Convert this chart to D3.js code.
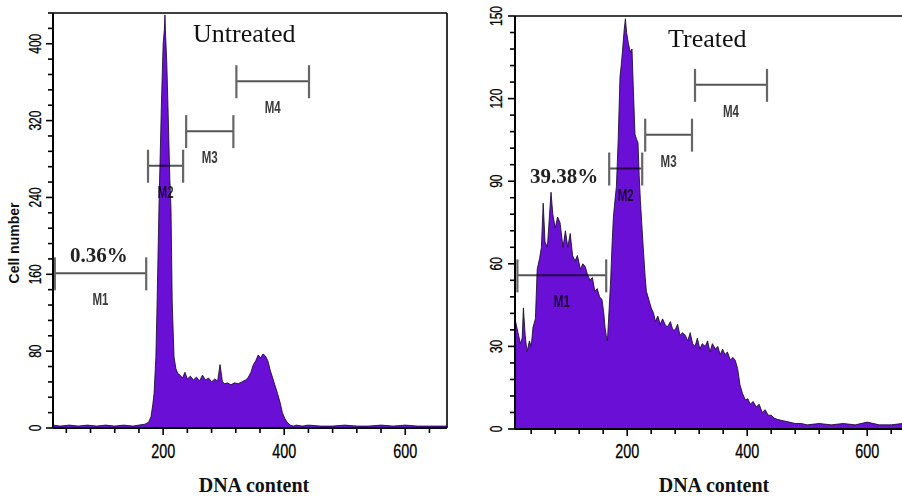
<!DOCTYPE html>
<html><head><meta charset="utf-8">
<script src="https://cdn.jsdelivr.net/npm/d3@7"></script>
<style>body{margin:0;background:#fff} svg{display:block}</style>
</head><body>
<svg id="c" width="902" height="498"></svg>
<script>
// ---------- data ----------
const untreatedDNA   = [18,30,45,60,75,90,105,120,135,150,160,170,176,180,183,185,188,190,193,197,200,202,203,204,206,208,211,213,215,218,221,224,228,232,236,240,245,250,255,260,265,270,275,280,285,290,294,298,302,306,312,318,324,330,336,340,345,349,353,357,361,365,369,373,377,381,385,389,393,397,401,405,410,415,420,430,440,460,480,500,520,540,560,580,600,620,640,669];
const untreatedCells = [3,2,3,2,3,2,3,2,3,2,3,4,6,12,25,36,74,130,227,334,400,415,430,410,380,334,260,227,130,74,62,57,55,52,58,51,54,50,53,49,55,50,52,48,51,49,66,48,46,47,45,47,46,48,50,52,58,66,70,76,73,77,75,70,60,52,44,36,27,16,10,6,3,2,3,2,3,2,2,3,2,2,3,2,3,2,2,2];
const treatedDNA   = [13,18,22,25,27,30,33,37,40,43,47,50,54,57,60,63,67,70,73,76,80,84,88,93,97,101,105,109,113,117,122,126,130,134,138,142,146,150,154,158,161,163,165,167,169,172,175,177,180,182,185,188,190,192,195,197,199,202,205,208,210,213,216,218,220,222,225,227,230,232,236,240,244,247,251,255,259,263,267,272,276,280,284,288,292,297,301,305,309,313,317,321,325,330,334,338,342,347,351,355,359,363,367,372,376,380,384,388,392,397,401,405,410,415,420,425,430,435,440,445,450,460,470,480,490,500,520,540,560,580,600,620,640,658];
const treatedCells = [40,35,31,33,44,34,28,32,30,37,40,58,62,66,82,68,66,76,86,78,73,77,75,66,72,66,71,63,61,63,58,60,59,56,54,55,50,51,48,47,42,37,34,32,40,52,68,77,84,88,105,128,132,137,145,149,144,140,137,138,125,107,105,104,92,83,72,65,55,50,47,44,42,39,41,38,40,38,37,39,36,36,38,34,35,34,32,35,31,30,33,29,31,30,32,28,31,29,30,27,29,27,28,25,26,25,22,16,13,10.5,11,9,10,8,9,6,7,5,5,4,3.5,3,2.5,2,2,1.5,2,1.5,2,1.5,2.5,1.5,1.5,2];

const markerNames = ["M1","M2","M3","M4"];
const untreatedMarkerStart = [21,175,238,321];
const untreatedMarkerEnd   = [172,233,316,441];
const untreatedMarkerLevel = [161,273,309,361];
const treatedMarkerStart = [17,170,230,313];
const treatedMarkerEnd   = [165,225,308,433];
const treatedMarkerLevel = [55.8,94.6,106.9,125];

const panelTitles = ["Untreated","Treated"];
const percentLabels = ["0.36%","39.38%"];
const xTickLabels = [200,400,600];
const untreatedYTicks = [0,80,160,240,320,400];
const treatedYTicks = [0,30,60,90,120,150];
const yAxisTitle = "Cell number";
const xAxisTitle = "DNA content";

// ---------- layout ----------
const FILL = "#6a0fd6";
const svg = d3.select("#c");

const panels = [
  {dna: untreatedDNA, cells: untreatedCells, xr:[53,447], yr:[428,13], xd:[18,669], yd:[0,432],
   yTicks: untreatedYTicks, yMinorStep:16, mS: untreatedMarkerStart, mE: untreatedMarkerEnd, mL: untreatedMarkerLevel,
   title: panelTitles[0], titleX:193, titleY:42, pct: percentLabels[0], pctX:70, pctY:262,
   yLabelX:35, rightBorder:true, xTitleX:254},
  {dna: treatedDNA, cells: treatedCells, xr:[515,902], yr:[429,16], xd:[13,658], yd:[0,150],
   yTicks: treatedYTicks, yMinorStep:6, mS: treatedMarkerStart, mE: treatedMarkerEnd, mL: treatedMarkerLevel,
   title: panelTitles[1], titleX:668, titleY:47, pct: percentLabels[1], pctX:530, pctY:183,
   yLabelX:496, rightBorder:false, xTitleX:714}
];

panels.forEach((p, pi) => {
  const x = d3.scaleLinear().domain(p.xd).range(p.xr);
  const y = d3.scaleLinear().domain(p.yd).range(p.yr);
  const g = svg.append("g");
  const clipId = "clip" + pi;
  svg.append("clipPath").attr("id", clipId).append("rect")
    .attr("x", p.xr[0]).attr("y", p.yr[1] - 2).attr("width", p.xr[1] - p.xr[0]).attr("height", p.yr[0] - p.yr[1] + 2);

  const pts = p.dna.map((d, i) => [d, p.cells[i]]);
  const area = d3.area().x(d => x(d[0])).y0(y(0)).y1(d => y(d[1]));
  const line = d3.line().x(d => x(d[0])).y(d => y(d[1]));
  g.append("path").datum(pts).attr("d", area).attr("fill", FILL).attr("clip-path", `url(#${clipId})`);
  g.append("path").datum(pts).attr("d", line).attr("fill", "none").attr("stroke", "#1a0a30")
    .attr("stroke-width", 1).attr("stroke-opacity", 0.85).attr("clip-path", `url(#${clipId})`);

  // frame
  g.append("line").attr("x1", p.xr[0]).attr("x2", p.xr[1]).attr("y1", p.yr[1]).attr("y2", p.yr[1])
    .attr("stroke", "#000").attr("stroke-width", 1.6);
  if (p.rightBorder) g.append("line").attr("x1", p.xr[1]).attr("x2", p.xr[1]).attr("y1", p.yr[1]).attr("y2", p.yr[0])
    .attr("stroke", "#000").attr("stroke-width", 1.6);

  // y axis
  const yMinor = d3.range(0, p.yd[1] + 0.001, p.yMinorStep);
  const yAx = g.append("g");
  yAx.append("line").attr("x1", p.xr[0]).attr("x2", p.xr[0]).attr("y1", p.yr[0]).attr("y2", p.yr[1])
    .attr("stroke", "#000").attr("stroke-width", 2);
  yAx.selectAll("line.t").data(yMinor).join("line").attr("class", "t")
    .attr("x1", p.xr[0]).attr("x2", d => p.xr[0] - (p.yTicks.includes(d) ? 7 : 5))
    .attr("y1", d => y(d)).attr("y2", d => y(d)).attr("stroke", "#000").attr("stroke-width", 1.6);
  yAx.selectAll("text").data(p.yTicks).join("text")
    .attr("transform", d => `translate(${p.yLabelX},${y(d)}) rotate(-90) scale(0.75,1)`)
    .attr("text-anchor", "middle").attr("dominant-baseline", "central")
    .attr("font-family", "Liberation Sans, Arial, sans-serif").attr("font-size", 16).attr("fill", "#000")
    .attr("stroke", "#000").attr("stroke-width", 0.3)
    .text(d => d);

  // x axis
  const xMinor = d3.range(40, p.xd[1], 40);
  const xAx = g.append("g");
  xAx.append("line").attr("x1", p.xr[0]).attr("x2", p.xr[1]).attr("y1", p.yr[0]).attr("y2", p.yr[0])
    .attr("stroke", "#000").attr("stroke-width", 2);
  xAx.selectAll("line.t").data(xMinor).join("line").attr("class", "t")
    .attr("x1", d => x(d)).attr("x2", d => x(d))
    .attr("y1", p.yr[0]).attr("y2", d => p.yr[0] + (xTickLabels.includes(d) ? 7 : 5))
    .attr("stroke", "#000").attr("stroke-width", 1.6);
  xAx.selectAll("text").data(xTickLabels).join("text")
    .attr("transform", d => `translate(${x(d)},458) scale(0.72,1)`)
    .attr("text-anchor", "middle")
    .attr("font-family", "Liberation Sans, Arial, sans-serif").attr("font-size", 20).attr("fill", "#000")
    .attr("stroke", "#000").attr("stroke-width", 0.3)
    .text(d => d);

  g.append("text").attr("x", p.xTitleX).attr("y", 492).attr("text-anchor", "middle")
    .attr("font-family", "Liberation Serif, Times New Roman, serif").attr("font-weight", "bold")
    .attr("font-size", 20).attr("fill", "#111").text(xAxisTitle);

  // markers
  const mg = g.append("g").style("mix-blend-mode", "multiply");
  markerNames.forEach((name, i) => {
    const xa = x(p.mS[i]), xb = x(p.mE[i]), yy = y(p.mL[i]);
    mg.append("line").attr("x1", xa).attr("x2", xb).attr("y1", yy).attr("y2", yy)
      .attr("stroke", "#555").attr("stroke-width", 2);
    [xa, xb].forEach(xx => mg.append("line").attr("x1", xx).attr("x2", xx).attr("y1", yy - 16).attr("y2", yy + 17)
      .attr("stroke", "#666").attr("stroke-width", 2.2));
    mg.append("text").attr("transform", `translate(${(xa + xb) / 2},${yy + 32}) scale(0.72,1)`)
      .attr("text-anchor", "middle").attr("font-family", "Liberation Sans, Arial, sans-serif")
      .attr("font-size", 16).attr("font-weight", "bold").attr("fill", "#3a3a3a").text(name);
  });

  // titles
  g.append("text").attr("x", p.titleX).attr("y", p.titleY)
    .attr("font-family", "Liberation Serif, Times New Roman, serif").attr("font-size", 26).attr("fill", "#111")
    .text(p.title);
  g.append("text").attr("x", p.pctX).attr("y", p.pctY)
    .attr("font-family", "Liberation Serif, Times New Roman, serif").attr("font-weight", "bold")
    .attr("font-size", 21).attr("fill", "#222").text(p.pct);
});

svg.append("text").attr("transform", "translate(19,243) rotate(-90)").attr("text-anchor", "middle")
  .attr("font-family", "Liberation Sans, Arial, sans-serif").attr("font-weight", "bold").attr("font-size", 14)
  .attr("fill", "#111").text(yAxisTitle);
</script>
</body></html>
